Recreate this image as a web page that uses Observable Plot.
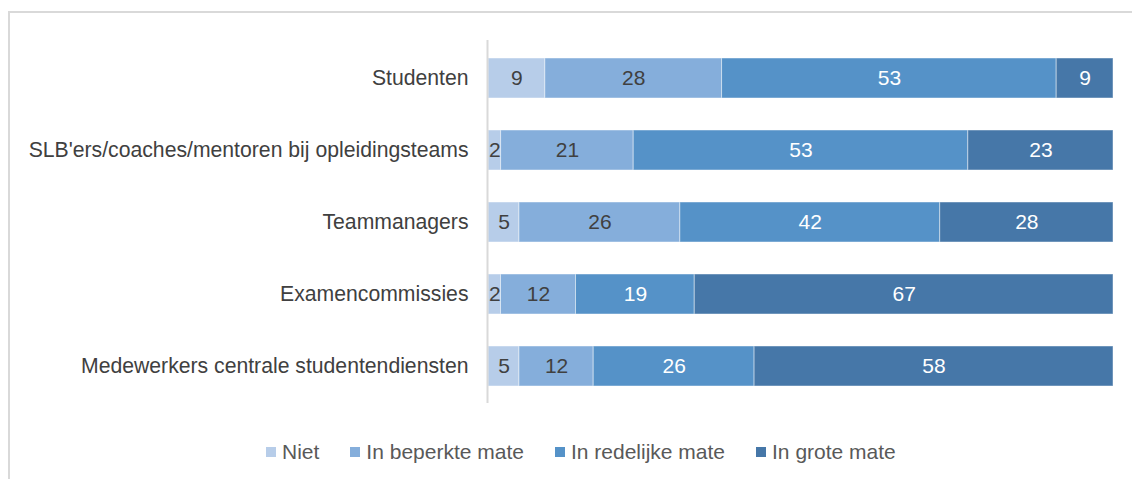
<!DOCTYPE html>
<html>
<head>
<meta charset="utf-8">
<script src="https://cdn.jsdelivr.net/npm/d3@7"></script>
<script src="https://cdn.jsdelivr.net/npm/@observablehq/plot@0.6"></script>
<style>
  html, body { margin: 0; padding: 0; background: #fff; }
  #wrap { position: relative; width: 1132px; height: 479px; overflow: hidden; font-family: "Liberation Sans", Arial, sans-serif; }
  #frame { position: absolute; left: 8px; top: 11px; width: 1200px; height: 600px; border-left: 2px solid #d9d9d9; border-top: 2px solid #d9d9d9; box-sizing: border-box; }
  #chart { position: absolute; left: 0; top: 0; }
  #legend { position: absolute; left: 266px; top: 440px; height: 24px; display: flex; align-items: center; font-size: 21px; color: #595959; white-space: nowrap; }
  #legend .item { display: flex; align-items: center; margin-right: 31px; }
  #legend .sw { width: 10px; height: 10px; margin-right: 6px; }
</style>
</head>
<body>
<div id="wrap">
  <div id="frame"></div>
  <div id="chart"></div>
  <div id="legend"></div>
</div>
<script>
const categories = [
  "Studenten",
  "SLB'ers/coaches/mentoren bij opleidingsteams",
  "Teammanagers",
  "Examencommissies",
  "Medewerkers centrale studentendiensten"
];
const series = ["Niet", "In beperkte mate", "In redelijke mate", "In grote mate"];
const niet      = [9, 2, 5, 2, 5];
const beperkt   = [28, 21, 26, 12, 12];
const redelijk  = [53, 53, 42, 19, 26];
const groot     = [9, 23, 28, 67, 58];
const colors = ["#b7cde9", "#85aedb", "#5592c8", "#4677a8"];
const labelColors = ["#404040", "#404040", "#ffffff", "#ffffff"];

const valueSets = [niet, beperkt, redelijk, groot];
const data = [];
categories.forEach((c, i) => {
  series.forEach((s, j) => {
    data.push({category: c, series: s, value: valueSets[j][i]});
  });
});

const plot = Plot.plot({
  width: 1132,
  height: 420,
  marginLeft: 488,
  marginRight: 19,
  marginTop: 40,
  marginBottom: 17,
  style: {fontFamily: '"Liberation Sans", Arial, sans-serif', background: "transparent"},
  x: {domain: [0, 1], axis: null},
  y: {domain: categories, paddingInner: 0.446, paddingOuter: 0.235, label: null},
  color: {domain: series, range: colors},
  marks: [
    Plot.barX(data, Plot.stackX({
      x: "value", y: "category", fill: "series", z: "series",
      offset: "normalize", order: null,
      stroke: "white", strokeOpacity: 0.45, strokeWidth: 1
    })),
    Plot.text(data, Plot.stackX({
      x: "value", y: "category", z: "series", offset: "normalize", order: null,
      text: d => String(d.value),
      fill: d => labelColors[series.indexOf(d.series)],
      fontSize: 21
    })),
    Plot.ruleX([0], {stroke: "#d9d9d9", strokeWidth: 2, dx: -1}),
    Plot.axisY({tickSize: 0, tickPadding: 20, fontSize: 21.2, fill: "#404040", label: null})
  ]
});
document.getElementById("chart").appendChild(plot);

const legend = document.getElementById("legend");
series.forEach((s, j) => {
  const item = document.createElement("div");
  item.className = "item";
  const sw = document.createElement("span");
  sw.className = "sw";
  sw.style.background = colors[j];
  const t = document.createElement("span");
  t.textContent = s;
  item.appendChild(sw);
  item.appendChild(t);
  legend.appendChild(item);
});
</script>
</body>
</html>
